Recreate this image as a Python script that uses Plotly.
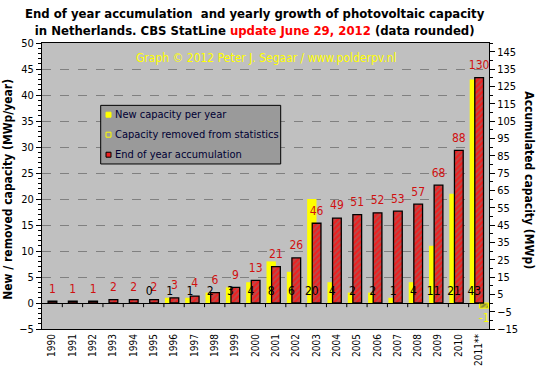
import plotly.graph_objects as go

years = ['1990', '1991', '1992', '1993', '1994', '1995', '1996', '1997', '1998', '1999',
         '2000', '2001', '2002', '2003', '2004', '2005', '2006', '2007', '2008', '2009',
         '2010', '2011**']
new_capacity = [None, None, None, None, None, 0, 1, 1, 2, 3, 4, 8, 6, 20, 4, 2, 2, 1, 4, 11, 21, 43]
removed_capacity = [None] * 21 + [-1]
accumulated = [1, 1, 1, 2, 2, 2, 3, 4, 6, 9, 13, 21, 26, 46, 49, 51, 52, 53, 57, 68, 88, 130]

left_ticks = list(range(-5, 51, 5))
right_ticks = list(range(-15, 146, 10))

legend_names = ['New capacity per year', 'Capacity removed from statistics', 'End of year accumulation']

FONT = "DejaVu Sans Condensed, DejaVu Sans, sans-serif"
idx = list(range(len(years)))

Y1 = (-5, 50)
Y2 = (-15, 150)


def to_y2(v):
    """Map a left-axis value to the right-axis scale (both axes share the plot height)."""
    return Y2[0] + (v - Y1[0]) * (Y2[1] - Y2[0]) / (Y1[1] - Y1[0])


fig = go.Figure()

fig.add_trace(go.Bar(
    x=idx, y=new_capacity, name=legend_names[0],
    width=0.46, offset=-0.45,
    marker=dict(color='#ffff00', line=dict(width=0)),
    yaxis='y', showlegend=False))

fig.add_trace(go.Bar(
    x=idx, y=removed_capacity, name=legend_names[1],
    width=0.45, offset=0.03,
    marker=dict(color='#c0c0c0', line=dict(color='#ffff00', width=1),
                pattern=dict(shape='/', fgcolor='#ffff00', bgcolor='#8a8a40', size=4, solidity=0.5)),
    yaxis='y', showlegend=False))

fig.add_trace(go.Bar(
    x=idx, y=accumulated, name=legend_names[2],
    width=0.43, offset=-0.2,
    marker=dict(color='#ee2020', line=dict(color='black', width=1.3),
                pattern=dict(shape='/', fgcolor='#7a7a7a', bgcolor='#ee2020', size=4, solidity=0.45)),
    yaxis='y2', showlegend=False))

# red labels above the accumulation bars (offset ~12 px in y2 units)
fig.add_trace(go.Scatter(
    x=[i + 0.015 for i in idx], y=[v + 6.7 for v in accumulated],
    text=[str(v) for v in accumulated], mode='text',
    textfont=dict(color='#d01010', size=12, family=FONT),
    showlegend=False, hoverinfo='skip', yaxis='y2', cliponaxis=False))

# black labels for yearly values, placed just above zero on yellow bar centers (drawn on top)
lab_x = [i - 0.22 for i, v in zip(idx, new_capacity) if v is not None]
lab_t = [str(v) for v in new_capacity if v is not None]
fig.add_trace(go.Scatter(
    x=lab_x, y=[to_y2(2.2)] * len(lab_x), text=lab_t, mode='text',
    textfont=dict(color='black', size=12, family=FONT),
    showlegend=False, hoverinfo='skip', yaxis='y2', cliponaxis=False))

rem_x = [i + 0.26 for i, v in zip(idx, removed_capacity) if v is not None]
rem_t = [str(v) for v in removed_capacity if v is not None]
rem_y = [to_y2(v - 2.0) for v in removed_capacity if v is not None]
fig.add_trace(go.Scatter(
    x=rem_x, y=rem_y, text=rem_t, mode='text',
    textfont=dict(color='#ffff00', size=12, family=FONT),
    showlegend=False, hoverinfo='skip', yaxis='y2', cliponaxis=False))

# category boundary ticks on zero line
shapes = []
for i in range(1, len(years)):
    shapes.append(dict(type='line', xref='x', yref='y', x0=i - 0.5, x1=i - 0.5,
                       y0=0, y1=-0.8, line=dict(color='black', width=1)))

# custom legend box
shapes.append(dict(type='rect', xref='paper', yref='paper', x0=0.1313, x1=0.534,
                   y0=0.577, y1=0.782, fillcolor='#9a9a9a', line=dict(color='black', width=1),
                   layer='above'))
leg_y = [0.7493, 0.6794, 0.6094]
sym_styles = [
    dict(fillcolor='#ffff00', line=dict(color='#ffff00', width=1)),
    dict(fillcolor='rgba(0,0,0,0)', line=dict(color='#ffff00', width=1)),
    dict(fillcolor='#ee2020', line=dict(color='black', width=1)),
]
annotations = []
for yy, st, name in zip(leg_y, sym_styles, legend_names):
    shapes.append(dict(type='rect', xref='paper', yref='paper', x0=0.1432, x1=0.1544,
                       y0=yy - 0.0087, y1=yy + 0.0087, layer='above', **st))
    annotations.append(dict(text=name, xref='paper', yref='paper', x=0.158, y=yy,
                            xanchor='left', yanchor='middle', showarrow=False,
                            font=dict(size=11, color='#000033', family=FONT)))

annotations += [
    dict(text="<b>End of year accumulation  and yearly growth of photovoltaic capacity<br>"
              "in Netherlands. CBS StatLine <span style='color:#ff0000'>update June 29, 2012</span> (data rounded)</b>",
         xref='paper', yref='paper', x=0.4776, y=1.0745, xanchor='center', yanchor='middle',
         showarrow=False, font=dict(family=FONT, size=13, color='black')),
    dict(text='Graph © 2012 Peter J. Segaar / www.polderpv.nl', xref='paper', yref='paper',
         x=0.5, y=0.949, xanchor='center', yanchor='middle', showarrow=False,
         font=dict(color='#ffff00', size=12, family=FONT)),
    dict(text='<b>New / removed capacity (MWp/year)</b>', xref='paper', yref='paper',
         x=-0.076, y=0.487, xanchor='center', yanchor='middle', textangle=-90,
         showarrow=False, font=dict(size=12, family=FONT)),
    dict(text='<b>Accumulated capacity (MWp)</b>', xref='paper', yref='paper',
         x=1.0906, y=0.518, xanchor='center', yanchor='middle', textangle=90,
         showarrow=False, font=dict(size=12, family=FONT)),
]

fig.update_layout(
    width=541, height=380,
    margin=dict(l=42, r=52, t=43, b=51),
    paper_bgcolor='white', plot_bgcolor='#c0c0c0',
    barmode='overlay', showlegend=False,
    font=dict(family=FONT, size=10, color='black'),
    xaxis=dict(range=[-0.5, 21.5], tickmode='array', tickvals=idx, ticktext=years,
               tickangle=-90, ticks='', showgrid=False, zeroline=False,
               showline=True, mirror=True, linecolor='black', linewidth=1,
               tickfont=dict(size=10, family=FONT)),
    yaxis=dict(range=list(Y1), tickmode='array', tickvals=left_ticks,
               showgrid=True, gridcolor='#808080', griddash='dash', gridwidth=1,
               zeroline=True, zerolinecolor='black', zerolinewidth=1,
               showline=True, mirror=True, linecolor='black', linewidth=1,
               ticks='outside', ticklen=5, tickcolor='black',
               minor=dict(dtick=1, ticks='outside', ticklen=3, tickcolor='black', showgrid=False),
               tickfont=dict(size=11, family=FONT)),
    yaxis2=dict(range=list(Y2), overlaying='y', side='right', tickmode='array',
                tickvals=right_ticks, showgrid=False, zeroline=False,
                showline=True, linecolor='black', linewidth=1,
                ticks='outside', ticklen=5, tickcolor='black',
                minor=dict(dtick=5, ticks='outside', ticklen=3, tickcolor='black', showgrid=False),
                tickfont=dict(size=11, family=FONT)),
    shapes=shapes,
    annotations=annotations,
)

fig.write_html("out.html", config={'displayModeBar': False},
               post_script="document.body.style.margin='0';document.body.style.padding='0';")
